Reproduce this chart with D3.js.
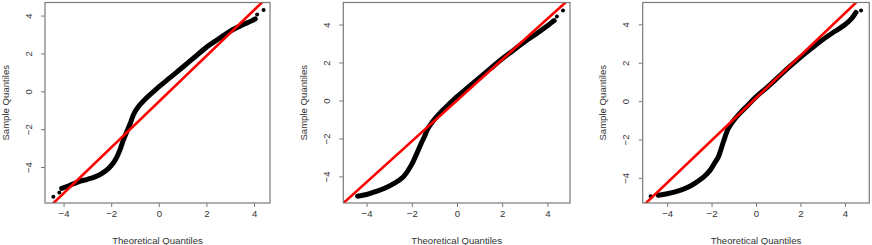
<!DOCTYPE html>
<html>
<head>
<meta charset="utf-8">
<script src="https://cdn.jsdelivr.net/npm/d3@7"></script>
<style>
  body { margin: 0; background: #fff; }
  svg text { font-family: "Liberation Sans", Arial, sans-serif; font-size: 9.6px; fill: #333; }
</style>
</head>
<body>
<svg id="chart" width="872" height="245"></svg>
<script>
// --- data ---
var xTicks = [-4, -2, 0, 2, 4],
    yTicks = [-4, -2, 0, 2, 4],
    xTitle = 'Theoretical Quantiles',
    yTitle = 'Sample Quantiles';

// panel 1: dense part of the sample curve
var theo1 = [-4.08, -3.8, -3.38, -3.0, -2.68, -2.4, -2.12, -1.92, -1.76, -1.62, -1.49, -1.35, -1.2, -1.07, -0.9, -0.5, 0, 0.5, 1.0, 1.5, 2.0, 2.5, 3.0, 3.5, 3.9, 4.05],
    samp1 = [-5.13, -5.0, -4.78, -4.65, -4.52, -4.35, -4.08, -3.8, -3.46, -3.05, -2.58, -2.15, -1.7, -1.25, -0.88, -0.33, 0.23, 0.75, 1.27, 1.8, 2.33, 2.76, 3.18, 3.5, 3.72, 3.83],
    outTheo1 = [-4.43, -4.18, 4.13, 4.4],
    outSamp1 = [-5.57, -5.34, 4.05, 4.3],
    qqLine1 = { intercept: -0.55, slope: 1.21 };

// panel 2
var theo2 = [-4.4, -4.0, -3.6, -3.2, -2.8, -2.38, -2.0, -1.78, -1.56, -1.42, -1.3, -1.1, -0.8, -0.4, 0, 0.5, 1.0, 1.5, 2.0, 2.5, 3.0, 3.5, 4.0, 4.2, 4.3],
    samp2 = [-5.04, -4.95, -4.8, -4.62, -4.38, -4.03, -3.36, -2.8, -2.2, -1.85, -1.5, -1.15, -0.72, -0.25, 0.2, 0.7, 1.2, 1.7, 2.2, 2.65, 3.1, 3.5, 3.93, 4.12, 4.2],
    outTheo2 = [4.42, 4.69],
    outSamp2 = [4.42, 4.74],
    qqLine2 = { intercept: 0.0, slope: 1.075 };

// panel 3
var theo3 = [-4.4, -4.0, -3.42, -3.0, -2.67, -2.35, -2.07, -1.85, -1.7, -1.47, -1.25, -1.0, -0.7, -0.4, 0, 0.5, 1.0, 1.5, 2.0, 2.5, 3.0, 3.5, 4.0, 4.3, 4.5],
    samp3 = [-4.91, -4.83, -4.65, -4.45, -4.22, -3.95, -3.61, -3.2, -2.92, -2.13, -1.44, -1.0, -0.6, -0.25, 0.22, 0.72, 1.25, 1.78, 2.28, 2.75, 3.2, 3.6, 3.98, 4.3, 4.62],
    outTheo3 = [-4.74, 4.73],
    outSamp3 = [-4.96, 4.72],
    qqLine3 = { intercept: 0.16, slope: 1.105 };

// --- layout of the three plot boxes ---
var panels = [
    { left: 45,    right: 270,   xDom: [-4.78, 4.67], yDom: [-5.9, 4.69],  theo: theo1, samp: samp1, oT: outTheo1, oS: outSamp1, qq: qqLine1 },
    { left: 343.3, right: 570,   xDom: [-5.03, 5.0],  yDom: [-5.4, 5.16],  theo: theo2, samp: samp2, oT: outTheo2, oS: outSamp2, qq: qqLine2 },
    { left: 642.7, right: 869.3, xDom: [-5.1, 5.1],   yDom: [-5.31, 5.14], theo: theo3, samp: samp3, oT: outTheo3, oS: outSamp3, qq: qqLine3 }
],
    boxTop = 2.5,
    boxBottom = 203,
    frame = '#7a7a7a',
    svg = d3.select('#chart');

function fmt(d) { return d < 0 ? '\u2212' + Math.abs(d) : d; }

panels.forEach(function (p, k) {
    var x = d3.scaleLinear().domain(p.xDom).range([p.left, p.right]),
        y = d3.scaleLinear().domain(p.yDom).range([boxBottom, boxTop]),
        g = svg.append('g'),
        clipId = 'clip' + k;

    svg.append('clipPath').attr('id', clipId)
        .append('rect')
        .attr('x', p.left).attr('y', boxTop)
        .attr('width', p.right - p.left).attr('height', boxBottom - boxTop);

    var plot = g.append('g').attr('clip-path', 'url(#' + clipId + ')');

    // dense band of sample points
    var pts = p.theo.map(function (t, i) { return [t, p.samp[i]]; });
    plot.append('path')
        .datum(pts)
        .attr('d', d3.line().x(function (d) { return x(d[0]); }).y(function (d) { return y(d[1]); }).curve(d3.curveCatmullRom))
        .attr('fill', 'none')
        .attr('stroke', '#000')
        .attr('stroke-width', 5)
        .attr('stroke-linecap', 'round')
        .attr('stroke-linejoin', 'round');

    // isolated points in the tails
    plot.selectAll('circle.out')
        .data(p.oT.map(function (t, i) { return [t, p.oS[i]]; }))
        .enter()
        .append('circle')
        .attr('class', 'out')
        .attr('cx', function (d) { return x(d[0]); })
        .attr('cy', function (d) { return y(d[1]); })
        .attr('r', 2)
        .attr('fill', '#000');

    // qq line
    plot.append('line')
        .attr('x1', x(p.xDom[0])).attr('y1', y(p.qq.intercept + p.qq.slope * p.xDom[0]))
        .attr('x2', x(p.xDom[1])).attr('y2', y(p.qq.intercept + p.qq.slope * p.xDom[1]))
        .attr('stroke', '#ff0000')
        .attr('stroke-width', 2.6);

    // box
    g.append('rect')
        .attr('x', p.left).attr('y', boxTop)
        .attr('width', p.right - p.left).attr('height', boxBottom - boxTop)
        .attr('fill', 'none').attr('stroke', frame).attr('stroke-width', 1.2);

    // x axis
    var xa = g.append('g')
        .attr('transform', 'translate(0,' + boxBottom + ')')
        .call(d3.axisBottom(x).tickValues(xTicks).tickSize(4).tickFormat(fmt));
    xa.select('.domain').remove();
    xa.selectAll('line').attr('stroke', frame);
    xa.selectAll('text').attr('y', 7).attr('dy', '0.71em').attr('fill', '#333');

    // y axis, labels parallel to the axis
    var ya = g.append('g')
        .attr('transform', 'translate(' + p.left + ',0)')
        .call(d3.axisLeft(y).tickValues(yTicks).tickSize(4).tickFormat(fmt));
    ya.select('.domain').remove();
    ya.selectAll('line').attr('stroke', frame);
    ya.selectAll('text')
        .attr('x', null).attr('dy', null)
        .attr('fill', '#333')
        .attr('text-anchor', 'middle')
        .attr('dominant-baseline', 'central')
        .attr('transform', 'translate(-17,0) rotate(-90)');

    // titles
    g.append('text')
        .attr('x', (p.left + p.right) / 2).attr('y', 240)
        .attr('text-anchor', 'middle').attr('dominant-baseline', 'central')
        .text(xTitle);
    g.append('text')
        .attr('transform', 'translate(' + (p.left - 40) + ',' + ((boxTop + boxBottom) / 2) + ') rotate(-90)')
        .attr('text-anchor', 'middle').attr('dominant-baseline', 'central')
        .text(yTitle);
});
</script>
</body>
</html>
